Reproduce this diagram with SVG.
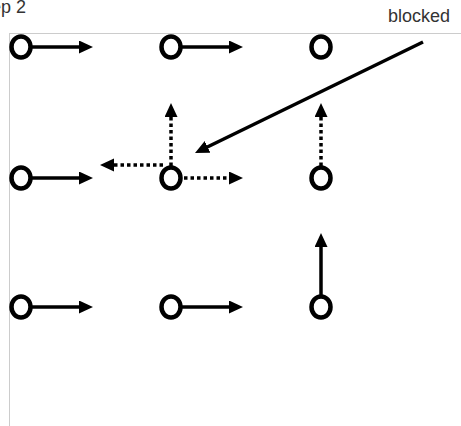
<svg xmlns="http://www.w3.org/2000/svg" width="461" height="426" viewBox="0 0 461 426">
<style>
.lbl{font-family:"Liberation Sans",Arial,sans-serif;font-size:18px;fill:#333}
.node{fill:none;stroke:#000;stroke-width:4.5}
.solid{stroke:#000;stroke-width:3.5;fill:none}
.dot{stroke:#000;stroke-width:3.5;fill:none;stroke-dasharray:3.5 3}
</style>
<defs>
<marker id="ah" markerUnits="userSpaceOnUse" markerWidth="15" markerHeight="14" refX="2" refY="6.5" orient="auto">
<path d="M0,0 L14,6.5 L0,13 z" fill="#000"/>
</marker>
</defs>
<rect x="9.5" y="33.5" width="470" height="420" fill="none" stroke="#ccc" stroke-width="1"/>
<text class="lbl" x="26" y="13" text-anchor="end">Step 2</text>
<text class="lbl" x="388" y="22">blocked</text>
<g id="connectors">
<line class="solid" x1="32" y1="47" x2="81" y2="47" marker-end="url(#ah)"/>
<line class="solid" x1="182" y1="47" x2="231" y2="47" marker-end="url(#ah)"/>
<line class="solid" x1="32" y1="178" x2="81" y2="178" marker-end="url(#ah)"/>
<line class="dot" x1="184" y1="178" x2="231" y2="178" marker-end="url(#ah)"/>
<line class="dot" x1="163" y1="165" x2="112" y2="165" marker-end="url(#ah)"/>
<line class="dot" x1="171" y1="166" x2="171" y2="115" marker-end="url(#ah)"/>
<line class="dot" x1="321" y1="166" x2="321" y2="115" marker-end="url(#ah)"/>
<line class="solid" x1="32" y1="307" x2="81" y2="307" marker-end="url(#ah)"/>
<line class="solid" x1="182" y1="307" x2="231" y2="307" marker-end="url(#ah)"/>
<line class="solid" x1="321" y1="295" x2="321" y2="245" marker-end="url(#ah)"/>
<line class="solid" x1="423" y1="42" x2="205.8" y2="147.7" marker-end="url(#ah)"/>
</g>
<g id="n11"><ellipse class="node" cx="21" cy="47" rx="9.5" ry="10.5"/></g>
<g id="n12"><ellipse class="node" cx="171" cy="47" rx="9.5" ry="10.5"/></g>
<g id="n13"><ellipse class="node" cx="321" cy="47" rx="9.5" ry="10.5"/></g>
<g id="n21"><ellipse class="node" cx="21" cy="178" rx="9.5" ry="10.5"/></g>
<g id="n22"><ellipse class="node" cx="171" cy="178" rx="9.5" ry="10.5"/></g>
<g id="n23"><ellipse class="node" cx="321" cy="178" rx="9.5" ry="10.5"/></g>
<g id="n31"><ellipse class="node" cx="21" cy="307" rx="9.5" ry="10.5"/></g>
<g id="n32"><ellipse class="node" cx="171" cy="307" rx="9.5" ry="10.5"/></g>
<g id="n33"><ellipse class="node" cx="321" cy="307" rx="9.5" ry="10.5"/></g>
</svg>
